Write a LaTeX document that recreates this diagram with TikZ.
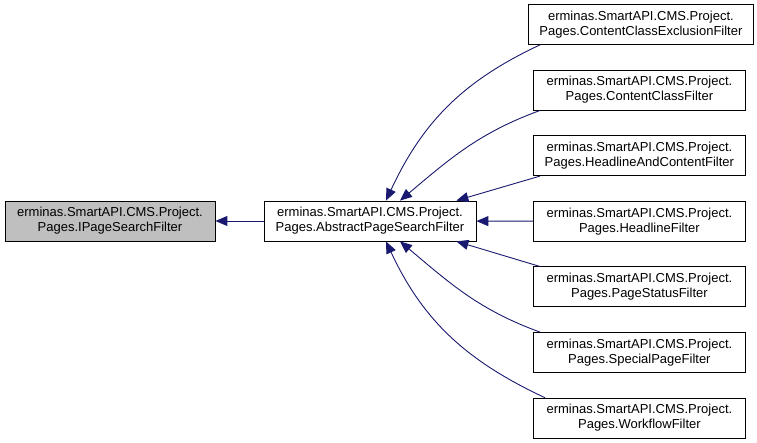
\documentclass[tikz,border=0pt]{standalone}
\usepackage{fontspec}
\setmainfont{Liberation Sans}
\usetikzlibrary{arrows.meta}
\definecolor{edgeblue}{RGB}{25,25,112}
\tikzset{
  cls/.style={draw=black, fill=white, line width=0.8pt, align=center,
    inner xsep=11pt, minimum width=212pt, minimum height=40pt,
    font=\fontsize{13}{15}\selectfont},
  inherit/.style={draw=edgeblue, line width=0.9pt,
    -{Triangle[length=12pt,width=10pt]}},
}

\begin{document}
\begin{tikzpicture}[x=1pt,y=1pt]
        \useasboundingbox (0,0) rectangle (757,443);

        % Interface und Basisklasse
        \node[cls, fill=gray!50, minimum width=210pt] (ipsf) at (110,222) {erminas.SmartAPI.CMS.Project.\\Pages.IPageSearchFilter};
        \node[cls] (apsf) at (370,222) {erminas.SmartAPI.CMS.Project.\\Pages.AbstractPageSearchFilter};

        % Filterklassen
        \node[cls, anchor=west] (excl) at (528,418.5) {erminas.SmartAPI.CMS.Project.\\Pages.ContentClassExclusionFilter};
        \foreach \name/\cls/\y in {ccf/ContentClassFilter/352.9, hacf/HeadlineAndContentFilter/287.3,
            hlf/HeadlineFilter/221.7, psf/PageStatusFilter/156.1,
            spf/SpecialPageFilter/90.5, wff/WorkflowFilter/24.9}
            \node[cls, anchor=west] (\name) at (533,\y) {erminas.SmartAPI.CMS.Project.\\Pages.\cls};

        % Vererbung
        \draw[inherit] (apsf) -- (ipsf);
        \draw[inherit] ([xshift=12pt]excl.south west) to[out=205, in=65] ([xshift=16pt]apsf.north);
        \draw[inherit] ([xshift=7pt]ccf.south west) to[out=200, in=40] ([xshift=30pt]apsf.north);
        \draw[inherit] ([xshift=7pt]hacf.south west) -- ([xshift=-20pt]apsf.north east);
        \draw[inherit] (hlf) -- (apsf);
        \draw[inherit] ([xshift=7pt]psf.north west) -- ([xshift=-20pt]apsf.south east);
        \draw[inherit] ([xshift=7pt]spf.north west) to[out=160, in=-40] ([xshift=30pt]apsf.south);
        \draw[inherit] ([xshift=12pt]wff.north west) to[out=155, in=-65] ([xshift=16pt]apsf.south);
\end{tikzpicture}
\end{document}
